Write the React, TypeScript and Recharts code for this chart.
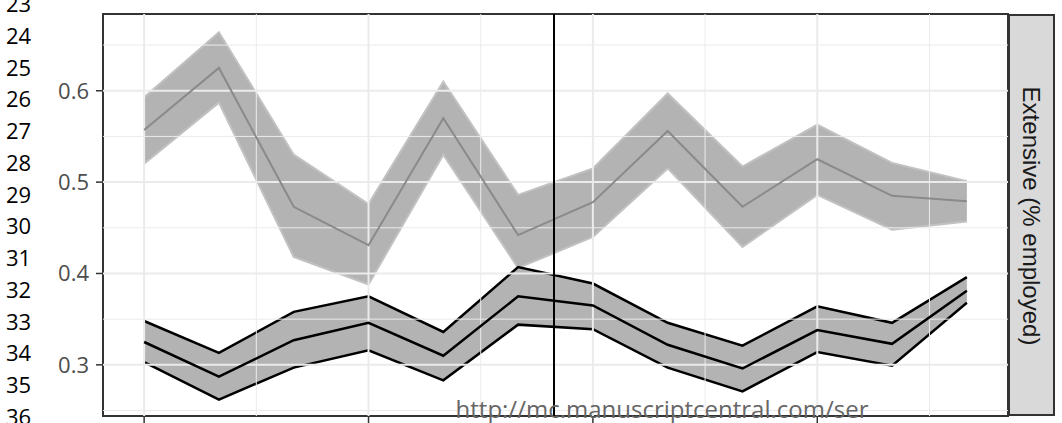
import { ComposedChart, Area, Line, XAxis, YAxis, ReferenceLine, ReferenceArea } from 'recharts';

// survey waves along the x axis
const waves = [1, 2, 3, 4, 5, 6, 7, 8, 9, 10, 11, 12];

// upper (grey) series: estimate and interval
const greyMean = [0.557, 0.625, 0.473, 0.431, 0.570, 0.442, 0.478, 0.556, 0.473, 0.525, 0.485, 0.479];
const greyLow = [0.520, 0.587, 0.418, 0.388, 0.530, 0.406, 0.440, 0.515, 0.429, 0.486, 0.448, 0.457];
const greyHigh = [0.593, 0.664, 0.530, 0.476, 0.610, 0.486, 0.515, 0.597, 0.517, 0.563, 0.521, 0.501];

// lower (black) series: estimate and interval
const blackMean = [0.325, 0.287, 0.327, 0.346, 0.310, 0.375, 0.365, 0.322, 0.296, 0.338, 0.323, 0.381];
const blackLow = [0.303, 0.262, 0.297, 0.316, 0.283, 0.344, 0.339, 0.297, 0.271, 0.314, 0.299, 0.368];
const blackHigh = [0.348, 0.313, 0.358, 0.375, 0.336, 0.407, 0.389, 0.346, 0.321, 0.364, 0.346, 0.396];

const yTicks = [0.3, 0.4, 0.5, 0.6];
const yMinor = [0.25, 0.35, 0.45, 0.55, 0.65];
const xTicks = [1, 4, 7, 10];
const xMinor = [2.5, 5.5, 8.5, 11.5];
const breakAt = 6.48;

const lineNumbers = [23, 24, 25, 26, 27, 28, 29, 30, 31, 32, 33, 34, 35, 36];
const stripLabel = 'Extensive (% employed)';
const watermark = 'http://mc.manuscriptcentral.com/ser';

const X_DOMAIN: [number, number] = [0.45, 12.55];
const Y_DOMAIN: [number, number] = [0.244, 0.684];

const data = waves.map((w, i) => ({
  wave: w,
  greyMean: greyMean[i],
  greyBand: [greyLow[i], greyHigh[i]],
  blackMean: blackMean[i],
  blackBand: [blackLow[i], blackHigh[i]],
}));

const font = '"Open Sans", sans-serif';
const gridColor = '#ebebeb';

// x ticks only carry a tick mark, no label
const NoLabel = () => <g />;

export default function App() {
  return (
    <div style={{ position: 'relative', width: 1062, height: 423, overflow: 'hidden', background: '#fff' }}>
      <style>{'body{margin:0}'}</style>
      <ComposedChart width={1062} height={423} data={data} margin={{ top: 14, right: 54, bottom: 0, left: 13 }}>
        <XAxis
          type="number"
          dataKey="wave"
          domain={X_DOMAIN}
          ticks={xTicks}
          allowDataOverflow
          height={7}
          axisLine={false}
          tickSize={7}
          tickLine={{ stroke: '#333', strokeWidth: 1.5 }}
          tick={<NoLabel />}
        />
        <YAxis
          type="number"
          domain={Y_DOMAIN}
          ticks={yTicks}
          allowDataOverflow
          width={90}
          axisLine={false}
          tickSize={7}
          tickMargin={7}
          tickLine={{ stroke: '#333', strokeWidth: 1.5 }}
          tick={{ fill: '#4d4d4d', fontSize: 22, fontFamily: font }}
          tickFormatter={(v: number) => v.toFixed(1)}
        />
        {yMinor.map(v => (
          <ReferenceLine key={'ym' + v} y={v} stroke={gridColor} strokeWidth={1} />
        ))}
        {xMinor.map(v => (
          <ReferenceLine key={'xm' + v} x={v} stroke={gridColor} strokeWidth={1} />
        ))}
        {yTicks.map(v => (
          <ReferenceLine key={'y' + v} y={v} stroke={gridColor} strokeWidth={2} />
        ))}
        {xTicks.map(v => (
          <ReferenceLine key={'x' + v} x={v} stroke={gridColor} strokeWidth={2} />
        ))}
        <Area
          type="linear"
          dataKey="greyBand"
          fill="#b3b3b3"
          fillOpacity={1}
          stroke="#c2c2c2"
          strokeWidth={2}
          isAnimationActive={false}
        />
        <Line type="linear" dataKey="greyMean" stroke="#8a8a8a" strokeWidth={2} dot={false} isAnimationActive={false} />
        <Area
          type="linear"
          dataKey="blackBand"
          fill="#b3b3b3"
          fillOpacity={1}
          stroke="#000"
          strokeWidth={2.5}
          isAnimationActive={false}
        />
        <Line type="linear" dataKey="blackMean" stroke="#000" strokeWidth={2.5} dot={false} isAnimationActive={false} />
        <ReferenceLine x={breakAt} stroke="#000" strokeWidth={2} />
        <ReferenceArea
          x1={X_DOMAIN[0]}
          x2={X_DOMAIN[1]}
          y1={Y_DOMAIN[0]}
          y2={Y_DOMAIN[1]}
          fill="none"
          stroke="#333"
          strokeWidth={2}
          ifOverflow="visible"
        />
      </ComposedChart>

      {/* facet strip */}
      <div
        style={{
          position: 'absolute',
          left: 1008,
          top: 14,
          width: 47,
          height: 402,
          background: '#d9d9d9',
          border: '2px solid #333',
          boxSizing: 'border-box',
        }}
      />
      <div
        style={{
          position: 'absolute',
          left: 1031,
          top: 216,
          transform: 'translate(-50%, -50%) rotate(90deg)',
          whiteSpace: 'nowrap',
          fontFamily: '"Liberation Sans", Arial, sans-serif',
          fontSize: 24,
          lineHeight: 1,
          color: '#1a1a1a',
        }}
      >
        {stripLabel}
      </div>

      {/* manuscript line numbers */}
      {lineNumbers.map((n, i) => (
        <div
          key={n}
          style={{
            position: 'absolute',
            left: 6,
            top: 3 + i * 31.75,
            transform: 'translateY(-50%)',
            fontFamily: font,
            fontSize: 22,
            lineHeight: 1,
            color: '#000',
          }}
        >
          {n}
        </div>
      ))}

      <div
        style={{
          position: 'absolute',
          left: 662,
          top: 409,
          transform: 'translate(-50%, -50%)',
          whiteSpace: 'nowrap',
          fontFamily: font,
          fontSize: 24,
          lineHeight: 1,
          color: '#666',
        }}
      >
        {watermark}
      </div>
    </div>
  );
}
